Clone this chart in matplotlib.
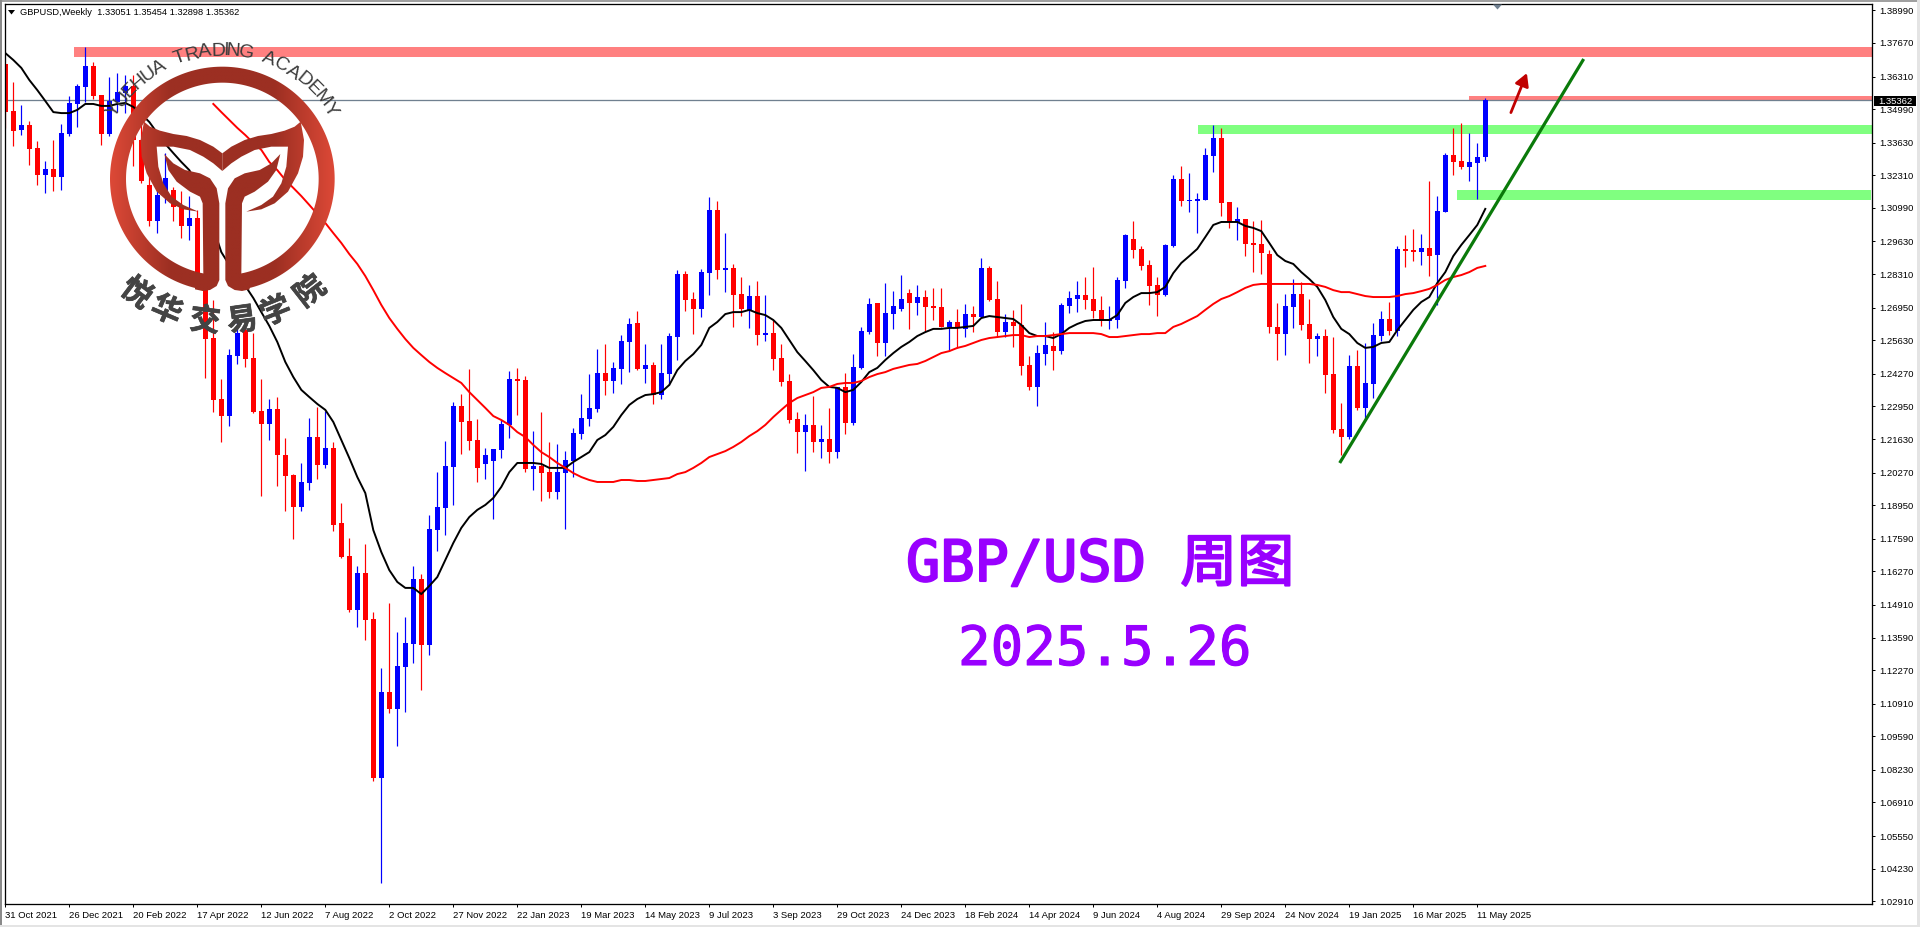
"""GBP/USD weekly candles with moving averages, zones, trend line and academy logo."""
import numpy as np
import matplotlib
matplotlib.use("Agg")
import matplotlib.pyplot as plt
import matplotlib.patheffects as pe
from matplotlib.patches import Rectangle, Polygon
from matplotlib.path import Path
from matplotlib.textpath import TextPath
from matplotlib.font_manager import FontProperties

# ── weekly candles ────────────────────────────────────────────────────────────
opens = [
    1.3682, 1.3491, 1.3414, 1.3435, 1.3342, 1.3232, 1.3257, 1.3224, 1.3398, 1.3520,
    1.3589, 1.3674, 1.3556, 1.3398, 1.3528, 1.3564, 1.3593, 1.3374, 1.3192, 1.3046,
    1.3151, 1.3171, 1.3103, 1.3026, 1.3058, 1.2831, 1.2572, 1.2325, 1.2256, 1.2499,
    1.2604, 1.2491, 1.2276, 1.2224, 1.2285, 1.2098, 1.2017, 1.1888, 1.1985, 1.2171,
    1.2058, 1.2127, 1.1823, 1.1689, 1.1470, 1.1620, 1.1434, 1.0790, 1.1138, 1.1070,
    1.1240, 1.1333, 1.1596, 1.1329, 1.1794, 1.1884, 1.2050, 1.2297, 1.2236, 1.2159,
    1.2062, 1.2074, 1.2118, 1.2220, 1.2406, 1.2402, 1.2042, 1.2054, 1.2029, 1.1948,
    1.2025, 1.2074, 1.2183, 1.2244, 1.2285, 1.2430, 1.2398, 1.2447, 1.2556, 1.2633,
    1.2447, 1.2463, 1.2341, 1.2426, 1.2576, 1.2831, 1.2730, 1.2690, 1.2835, 1.3090,
    1.2848, 1.2856, 1.2750, 1.2686, 1.2742, 1.2584, 1.2592, 1.2491, 1.2398, 1.2244,
    1.2191, 1.2220, 1.2151, 1.2163, 1.2110, 1.2374, 1.2228, 1.2451, 1.2596, 1.2714,
    1.2552, 1.2669, 1.2690, 1.2754, 1.2714, 1.2738, 1.2702, 1.2698, 1.2617, 1.2637,
    1.2609, 1.2669, 1.2657, 1.2856, 1.2730, 1.2596, 1.2637, 1.2625, 1.2463, 1.2374,
    1.2507, 1.2540, 1.2519, 1.2702, 1.2730, 1.2746, 1.2730, 1.2686, 1.2641, 1.2645,
    1.2803, 1.2973, 1.2933, 1.2868, 1.2787, 1.2746, 1.2945, 1.3216, 1.3127, 1.3127,
    1.3131, 1.3309, 1.3382, 1.3123, 1.3042, 1.3054, 1.2957, 1.2953, 1.2912, 1.2617,
    1.2588, 1.2698, 1.2750, 1.2629, 1.2568, 1.2580, 1.2426, 1.2204, 1.2171, 1.2459,
    1.2289, 1.2386, 1.2580, 1.2649, 1.2600, 1.2933, 1.2929, 1.2921, 1.2937, 1.2908,
    1.3082, 1.3313, 1.3289, 1.3265, 1.3281, 1.33051,
]
closes = [
    1.3487, 1.3410, 1.3435, 1.3338, 1.3232, 1.3257, 1.3224, 1.3402, 1.3524, 1.3593,
    1.3674, 1.3552, 1.3398, 1.3532, 1.3568, 1.3593, 1.3374, 1.3208, 1.3046, 1.3151,
    1.3220, 1.3103, 1.3026, 1.3058, 1.2831, 1.2568, 1.2321, 1.2256, 1.2503, 1.2592,
    1.2487, 1.2272, 1.2224, 1.2285, 1.2098, 1.2013, 1.1888, 1.1989, 1.2171, 1.2058,
    1.2127, 1.1815, 1.1685, 1.1470, 1.1620, 1.1430, 1.0790, 1.1138, 1.1070, 1.1244,
    1.1337, 1.1596, 1.1329, 1.1799, 1.1888, 1.2054, 1.2297, 1.2232, 1.2155, 1.2046,
    1.2098, 1.2123, 1.2224, 1.2406, 1.2398, 1.2042, 1.2054, 1.2025, 1.1948, 1.2029,
    1.2078, 1.2187, 1.2248, 1.2289, 1.2430, 1.2398, 1.2451, 1.2560, 1.2629, 1.2447,
    1.2463, 1.2341, 1.2430, 1.2580, 1.2831, 1.2726, 1.2690, 1.2839, 1.3090, 1.2848,
    1.2856, 1.2746, 1.2690, 1.2742, 1.2584, 1.2592, 1.2487, 1.2394, 1.2240, 1.2191,
    1.2220, 1.2151, 1.2163, 1.2110, 1.2374, 1.2228, 1.2455, 1.2600, 1.2710, 1.2552,
    1.2673, 1.2702, 1.2730, 1.2714, 1.2738, 1.2698, 1.2694, 1.2617, 1.2637, 1.2613,
    1.2669, 1.2657, 1.2856, 1.2726, 1.2596, 1.2637, 1.2621, 1.2459, 1.2374, 1.2511,
    1.2544, 1.2519, 1.2706, 1.2734, 1.2746, 1.2726, 1.2681, 1.2641, 1.2649, 1.2807,
    1.2989, 1.2929, 1.2864, 1.2783, 1.2746, 1.2949, 1.3216, 1.3127, 1.3131, 1.3135,
    1.3313, 1.3382, 1.3119, 1.3046, 1.3054, 1.2953, 1.2949, 1.2916, 1.2617, 1.2588,
    1.2702, 1.2750, 1.2625, 1.2568, 1.2580, 1.2422, 1.2200, 1.2171, 1.2459, 1.2289,
    1.2390, 1.2584, 1.2649, 1.2600, 1.2933, 1.2925, 1.2921, 1.2937, 1.2904, 1.3086,
    1.3313, 1.3285, 1.3265, 1.3285, 1.3305, 1.35362,
]
highs = [
    1.3682, 1.3609, 1.3516, 1.3451, 1.3370, 1.3289, 1.3374, 1.3439, 1.3552, 1.3601,
    1.3751, 1.3690, 1.3556, 1.3629, 1.3645, 1.3637, 1.3637, 1.3455, 1.3265, 1.3184,
    1.3321, 1.3184, 1.3167, 1.3147, 1.3090, 1.2839, 1.2726, 1.2406, 1.2528, 1.2645,
    1.2645, 1.2592, 1.2406, 1.2325, 1.2333, 1.2167, 1.2021, 1.2066, 1.2248, 1.2293,
    1.2276, 1.2151, 1.1904, 1.1762, 1.1649, 1.1738, 1.1462, 1.1236, 1.1499, 1.1381,
    1.1442, 1.1649, 1.1616, 1.1855, 1.2029, 1.2155, 1.2313, 1.2345, 1.2447, 1.2244,
    1.2127, 1.2123, 1.2240, 1.2438, 1.2451, 1.2418, 1.2195, 1.2272, 1.2151, 1.2143,
    1.2114, 1.2208, 1.2345, 1.2426, 1.2528, 1.2548, 1.2475, 1.2584, 1.2653, 1.2681,
    1.2548, 1.2475, 1.2548, 1.2592, 1.2848, 1.2843, 1.2758, 1.2852, 1.3143, 1.3127,
    1.2997, 1.2872, 1.2819, 1.2787, 1.2803, 1.2746, 1.2645, 1.2548, 1.2426, 1.2272,
    1.2264, 1.2337, 1.2220, 1.2289, 1.2374, 1.2430, 1.2507, 1.2617, 1.2734, 1.2714,
    1.2795, 1.2762, 1.2827, 1.2771, 1.2787, 1.2766, 1.2775, 1.2775, 1.2645, 1.2690,
    1.2710, 1.2702, 1.2896, 1.2864, 1.2803, 1.2669, 1.2686, 1.2710, 1.2499, 1.2544,
    1.2637, 1.2596, 1.2714, 1.2762, 1.2803, 1.2819, 1.2860, 1.2742, 1.2702, 1.2819,
    1.2993, 1.3046, 1.2945, 1.2888, 1.2819, 1.2953, 1.3232, 1.3269, 1.3240, 1.3159,
    1.3342, 1.3435, 1.3423, 1.3123, 1.3103, 1.3054, 1.3046, 1.3050, 1.2929, 1.2714,
    1.2750, 1.2811, 1.2799, 1.2730, 1.2592, 1.2609, 1.2576, 1.2309, 1.2503, 1.2523,
    1.2552, 1.2633, 1.2681, 1.2718, 1.2945, 1.2989, 1.3014, 1.2993, 1.3208, 1.3147,
    1.3321, 1.3423, 1.3443, 1.3402, 1.3362, 1.35454,
]
lows = [
    1.3423, 1.3350, 1.3394, 1.3273, 1.3192, 1.3159, 1.3167, 1.3171, 1.3390, 1.3427,
    1.3528, 1.3540, 1.3354, 1.3390, 1.3487, 1.3483, 1.3269, 1.3200, 1.3026, 1.2997,
    1.3119, 1.3046, 1.2977, 1.2969, 1.2827, 1.2410, 1.2272, 1.2151, 1.2216, 1.2467,
    1.2455, 1.2268, 1.1932, 1.2159, 1.1973, 1.1871, 1.1758, 1.1871, 1.1956, 1.2001,
    1.2046, 1.1790, 1.1681, 1.1462, 1.1402, 1.1349, 1.0778, 1.0365, 1.1053, 1.0920,
    1.1057, 1.1256, 1.1146, 1.1288, 1.1709, 1.1774, 1.1896, 1.2102, 1.2118, 1.1989,
    1.2001, 1.1839, 1.2086, 1.2167, 1.2260, 1.2029, 1.1956, 1.1912, 1.1924, 1.1920,
    1.1799, 1.2009, 1.2163, 1.2216, 1.2272, 1.2341, 1.2349, 1.2386, 1.2434, 1.2442,
    1.2390, 1.2305, 1.2325, 1.2382, 1.2483, 1.2681, 1.2588, 1.2657, 1.2746, 1.2811,
    1.2758, 1.2617, 1.2661, 1.2613, 1.2544, 1.2560, 1.2442, 1.2378, 1.2228, 1.2106,
    1.2033, 1.2110, 1.2086, 1.2066, 1.2086, 1.2183, 1.2220, 1.2447, 1.2588, 1.2499,
    1.2499, 1.2609, 1.2681, 1.2609, 1.2665, 1.2596, 1.2645, 1.2617, 1.2519, 1.2532,
    1.2576, 1.2596, 1.2653, 1.2722, 1.2576, 1.2576, 1.2536, 1.2422, 1.2361, 1.2297,
    1.2463, 1.2442, 1.2507, 1.2673, 1.2677, 1.2690, 1.2653, 1.2621, 1.2609, 1.2613,
    1.2775, 1.2896, 1.2848, 1.2706, 1.2661, 1.2742, 1.2941, 1.3107, 1.3082, 1.2997,
    1.3131, 1.3244, 1.3066, 1.3018, 1.2969, 1.2904, 1.2839, 1.2831, 1.2592, 1.2483,
    1.2503, 1.2613, 1.2604, 1.2471, 1.2499, 1.2349, 1.2187, 1.2098, 1.2163, 1.2281,
    1.2244, 1.2329, 1.2560, 1.2584, 1.2580, 1.2860, 1.2884, 1.2868, 1.2823, 1.2706,
    1.3082, 1.3232, 1.3257, 1.3208, 1.3135, 1.32898,
]

# ── moving averages (the slow one starts later, both end on the last bar) ─────
ma_fast = [
    1.3726, 1.3698, 1.3666, 1.3617, 1.3576, 1.3532, 1.3487, 1.3483, 1.3483, 1.3496,
    1.3520, 1.3520, 1.3512, 1.3512, 1.3520, 1.3524, 1.3508, 1.3479, 1.3447, 1.3402,
    1.3358, 1.3321, 1.3285, 1.3252, 1.3192, 1.3111, 1.3018, 1.2920, 1.2868, 1.2827,
    1.2783, 1.2734, 1.2677, 1.2621, 1.2556, 1.2475, 1.2414, 1.2362, 1.2333, 1.2305,
    1.2281, 1.2232, 1.2159, 1.2086, 1.2009, 1.1944, 1.1794, 1.1705, 1.1632, 1.1584,
    1.1560, 1.1560, 1.1535, 1.1568, 1.1604, 1.1673, 1.1742, 1.1803, 1.1847, 1.1876,
    1.1896, 1.1924, 1.1969, 1.2029, 1.2066, 1.2066, 1.2066, 1.2062, 1.2046, 1.2046,
    1.2046, 1.2070, 1.2090, 1.2110, 1.2159, 1.2179, 1.2212, 1.2260, 1.2301, 1.2325,
    1.2341, 1.2345, 1.2353, 1.2382, 1.2442, 1.2479, 1.2507, 1.2544, 1.2613, 1.2637,
    1.2669, 1.2677, 1.2677, 1.2686, 1.2673, 1.2665, 1.2645, 1.2613, 1.2564, 1.2515,
    1.2479, 1.2442, 1.2402, 1.2374, 1.2370, 1.2353, 1.2362, 1.2394, 1.2434, 1.2451,
    1.2483, 1.2511, 1.2536, 1.2556, 1.2580, 1.2596, 1.2609, 1.2609, 1.2613, 1.2613,
    1.2617, 1.2621, 1.2653, 1.2661, 1.2657, 1.2653, 1.2649, 1.2625, 1.2592, 1.2580,
    1.2580, 1.2572, 1.2588, 1.2613, 1.2629, 1.2641, 1.2645, 1.2645, 1.2645, 1.2665,
    1.2714, 1.2738, 1.2754, 1.2754, 1.2758, 1.2779, 1.2835, 1.2876, 1.2904, 1.2933,
    1.2981, 1.3030, 1.3042, 1.3042, 1.3042, 1.3026, 1.3018, 1.3005, 1.2957, 1.2908,
    1.2884, 1.2872, 1.2839, 1.2811, 1.2779, 1.2726, 1.2657, 1.2609, 1.2588, 1.2552,
    1.2532, 1.2536, 1.2552, 1.2556, 1.2604, 1.2645, 1.2686, 1.2718, 1.2738, 1.2795,
    1.2839, 1.2904, 1.2949, 1.2989, 1.3030, 1.3095,
]
ma_slow = [
    1.3520, 1.3487, 1.3455, 1.3423, 1.3394, 1.3362, 1.3334, 1.3285, 1.3252, 1.3212,
    1.3180, 1.3147, 1.3111, 1.3074, 1.3038, 1.2997, 1.2957, 1.2912, 1.2872, 1.2823,
    1.2766, 1.2706, 1.2653, 1.2609, 1.2568, 1.2532, 1.2503, 1.2475, 1.2451, 1.2430,
    1.2410, 1.2390, 1.2353, 1.2321, 1.2289, 1.2256, 1.2240, 1.2220, 1.2191, 1.2171,
    1.2139, 1.2110, 1.2090, 1.2066, 1.2046, 1.2025, 1.2009, 1.1997, 1.1989, 1.1989,
    1.1989, 1.1997, 1.1997, 1.1993, 1.1993, 1.1997, 1.2001, 1.2005, 1.2021, 1.2029,
    1.2046, 1.2066, 1.2090, 1.2102, 1.2114, 1.2131, 1.2151, 1.2175, 1.2195, 1.2220,
    1.2252, 1.2281, 1.2309, 1.2329, 1.2341, 1.2353, 1.2370, 1.2374, 1.2386, 1.2390,
    1.2390, 1.2398, 1.2414, 1.2426, 1.2434, 1.2447, 1.2455, 1.2463, 1.2467, 1.2479,
    1.2495, 1.2511, 1.2519, 1.2532, 1.2540, 1.2552, 1.2564, 1.2572, 1.2576, 1.2580,
    1.2584, 1.2584, 1.2576, 1.2580, 1.2580, 1.2584, 1.2588, 1.2592, 1.2592, 1.2592,
    1.2592, 1.2588, 1.2576, 1.2576, 1.2580, 1.2584, 1.2588, 1.2588, 1.2592, 1.2592,
    1.2617, 1.2629, 1.2645, 1.2661, 1.2686, 1.2710, 1.2730, 1.2742, 1.2758, 1.2775,
    1.2787, 1.2791, 1.2791, 1.2791, 1.2791, 1.2791, 1.2791, 1.2791, 1.2787, 1.2779,
    1.2766, 1.2758, 1.2758, 1.2750, 1.2742, 1.2738, 1.2738, 1.2738, 1.2742, 1.2750,
    1.2754, 1.2762, 1.2771, 1.2787, 1.2807, 1.2819, 1.2827, 1.2839, 1.2856, 1.2864,
]

# ── axis labels and drawn objects ─────────────────────────────────────────────
date_labels = [
    "31 Oct 2021", "26 Dec 2021", "20 Feb 2022", "17 Apr 2022", "12 Jun 2022", "7 Aug 2022",
    "2 Oct 2022", "27 Nov 2022", "22 Jan 2023", "19 Mar 2023", "14 May 2023", "9 Jul 2023",
    "3 Sep 2023", "29 Oct 2023", "24 Dec 2023", "18 Feb 2024", "14 Apr 2024", "9 Jun 2024",
    "4 Aug 2024", "29 Sep 2024", "24 Nov 2024", "19 Jan 2025", "16 Mar 2025", "11 May 2025",
]
price_ticks = [
    1.38990, 1.37670, 1.36310, 1.34990, 1.33630, 1.32310, 1.30990, 1.29630, 1.28310, 1.26950,
    1.25630, 1.24270, 1.22950, 1.21630, 1.20270, 1.18950, 1.17590, 1.16270, 1.14910, 1.13590,
    1.12270, 1.10910, 1.09590, 1.08230, 1.06910, 1.05550, 1.04230, 1.02910,
]
last_price = 1.35362
header_text = "GBPUSD,Weekly  1.33051 1.35454 1.32898 1.35362"

# zones: first bar, last bar, lower price, upper price
zone_starts = [8.6, 183.0, 149.1, 181.5]
zone_ends = [233.4, 233.4, 233.4, 233.2]
zone_lows = [1.3710, 1.3536, 1.3398, 1.3131]
zone_highs = [1.3751, 1.3552, 1.3435, 1.3171]
zone_colors = ["#FF8080", "#FF8080", "#80FF80", "#80FF80"]
trend_bars = [166.8, 197.3]
trend_prices = [1.2066, 1.3702]
arrow_bars = [188.2, 190.2]
arrow_prices = [1.3485, 1.3645]

BLUE, RED = "#0000FF", "#FF0000"
PX = 0.72  # one pixel in points at dpi=100
W, H = 1920, 927

fig = plt.figure(figsize=(W / 100, H / 100), dpi=100, facecolor="white")
ax = fig.add_axes([5 / W, 1 - 904 / H, (1872 - 5) / W, (904 - 4.3) / H])
ax.set_xlim(-0.04, 233.34)
ax.set_ylim(1.02798, 1.39236)

# ── zones, candles, averages ──────────────────────────────────────────────────
for x0, x1, lo_, hi_, col in zip(zone_starts, zone_ends, zone_lows, zone_highs, zone_colors):
    ax.add_patch(Rectangle((x0, lo_), x1 - x0, hi_ - lo_, color=col, lw=0, zorder=1))

ax.axhline(last_price, color="#708090", lw=PX * 1.3, zorder=1.5)

xs = np.arange(len(opens))
o, c, hi, lo = map(np.array, (opens, closes, highs, lows))
colors = [BLUE if b else RED for b in c >= o]
ax.vlines(xs, lo, hi, colors=colors, lw=PX * 1.2, zorder=2)
ax.bar(xs, np.abs(c - o), bottom=np.minimum(o, c), width=0.625, color=colors,
       lw=0, antialiased=False, zorder=2.1)

ax.plot(np.arange(len(ma_fast)), ma_fast, color="black", lw=1.4, zorder=3)
ax.plot(np.arange(len(opens) - len(ma_slow), len(opens)), ma_slow, color=RED, lw=1.4, zorder=3)
ax.plot(trend_bars, trend_prices, color="#0A7A0A", lw=2.3, zorder=4, solid_capstyle="butt")
ax.annotate("", xy=(arrow_bars[1], arrow_prices[1]), xytext=(arrow_bars[0], arrow_prices[0]),
            arrowprops=dict(arrowstyle="-|>,head_width=0.42,head_length=0.75", color="#C00000",
                            lw=2.0, shrinkA=0, shrinkB=0), zorder=4)

# ── axes ──────────────────────────────────────────────────────────────────────
TICK_FONT = dict(family="Liberation Sans", fontsize=6.8, color="black")
for s in ax.spines.values():
    s.set_linewidth(PX * 1.3)
ax.yaxis.tick_right()
ax.set_yticks(price_ticks)
ax.set_yticklabels([f"{p:.5f}" for p in price_ticks], **TICK_FONT)
ax.set_xticks(np.arange(len(date_labels)) * 8)
ax.set_xticklabels(date_labels, ha="left", **TICK_FONT)
ax.tick_params(axis="y", length=2.5, width=PX, pad=2.6)
ax.tick_params(axis="x", length=2.5, width=PX, pad=2.2)

# ── overlay in pixel coordinates: window frame, captions, logo ────────────────
ov = fig.add_axes([0, 0, 1, 1], facecolor="none", zorder=5)
ov.set_xlim(0, W)
ov.set_ylim(H, 0)
ov.axis("off")
ov.set_autoscale_on(False)

ov.add_patch(Rectangle((0, 0), W, 2, color="#A0A0A0", lw=0))
ov.add_patch(Rectangle((0, 0), 2, H, color="#8A8A8A", lw=0))
ov.add_patch(Rectangle((0, 925), W, 2, color="#E4E4E4", lw=0))
ov.add_patch(Rectangle((1917, 0), 3, H, color="#E4E4E4", lw=0))

ov.add_patch(Polygon([(8, 10), (15, 10), (11.5, 14.5)], color="black", lw=0))
ov.text(20, 12.8, header_text, va="center", ha="left", family="Liberation Sans",
        fontsize=6.7, color="black")
ov.add_patch(Polygon([(1493, 4.5), (1502, 4.5), (1497.5, 9.5)], color="#708090", lw=0))
ov.add_patch(Rectangle((1874, 96), 42, 10, color="black", lw=0))
ov.text(1878.7, 101.2, f"{last_price:.5f}", va="center", ha="left",
        family="Liberation Sans", fontsize=6.8, color="white")

PURPLE = "#9900FF"
TITLE_FAMILY = ["DejaVu Sans Mono", "Noto Sans CJK SC"]
ov.text(906, 581, "GBP/USD 周图", va="baseline", ha="left", family=TITLE_FAMILY, fontsize=41,
        color=PURPLE, path_effects=[pe.withStroke(linewidth=1.5, foreground=PURPLE)])
ov.text(958, 665, "2025.5.26", va="baseline", ha="left", family=TITLE_FAMILY, fontsize=39,
        color=PURPLE, path_effects=[pe.withStroke(linewidth=0.8, foreground=PURPLE)])

# logo shapes are traced in crop units (3 per pixel), right half mirrors the left
CX, CY = 667, 537
horn = [(667, 460), (640, 440), (600, 420), (560, 408), (520, 402), (480, 392), (450, 380),
        (432, 365), (422, 420), (425, 470), (440, 520), (470, 575), (510, 610), (550, 628),
        (595, 635), (550, 615), (515, 590), (490, 550), (475, 500), (470, 440), (520, 440),
        (570, 450), (610, 470), (640, 490), (667, 513)]
stem = [(493, 462), (520, 490), (555, 510), (600, 520), (630, 535), (650, 565), (658, 610),
        (658, 840), (650, 858), (630, 870), (608, 873), (585, 868), (585, 820), (610, 822),
        (608, 610), (600, 590), (570, 575), (530, 545), (505, 510)]
angles = np.radians(np.linspace(100, 440, 200))  # ring runs round the top, open at the bottom
ring = np.vstack([np.c_[CX + 337 * np.cos(angles), CY + 337 * np.sin(angles)],
                  np.c_[CX + 289 * np.cos(angles[::-1]), CY + 289 * np.sin(angles[::-1])]])
mirror = lambda pts: [(2 * CX - x, y) for x, y in pts]
shapes = [ring, horn, mirror(horn), stem, mirror(stem)]

# horizontal colour ramp, darker in the middle of the logo
xr = np.linspace(-1, 1, 230)
mix = np.clip((np.abs(xr) - 0.45) / 0.55, 0, 1)[None, :, None]
ramp = (1 - mix) * np.array([0x9C, 0x2F, 0x22]) / 255 + mix * np.array([0xE0, 0x4A, 0x38]) / 255
extent = [CX / 3 - 115, CX / 3 + 115, CY / 3 + 115, CY / 3 - 115]
for pts in shapes:
    pts = np.asarray(pts, dtype=float) / 3
    im = ov.imshow(ramp, extent=extent, aspect="auto", interpolation="bilinear", zorder=6)
    im.set_clip_path(Path(np.vstack([pts, pts[:1]]), closed=True), transform=ov.transData)
ov.set_xlim(0, W)
ov.set_ylim(H, 0)

# academy name bent over the ring
name = "YUEHUA TRADING ACADEMY"
fp = FontProperties(family="Liberation Sans")
size = 14
adv = [TextPath((0, 0), ch if ch != " " else "n", size=size * 100 / 72, prop=fp).get_extents().width * 1.07
       for ch in name]
radius = 123.5
pos = -sum(adv) / 2
for ch, w in zip(name, adv):
    a = (pos + w / 2) / radius
    ov.text(CX / 3 + radius * np.sin(a), CY / 3 - radius * np.cos(a), ch, family="Liberation Sans",
            fontsize=size, color="#3C3C3C", rotation=-np.degrees(a), rotation_mode="anchor",
            ha="center", va="baseline", zorder=7)
    pos += w

cn_chars = ["悦", "华", "交", "易", "学", "院"]
cn_angles = [-37, -23, -7, 8, 22, 38]
for ch, deg in zip(cn_chars, cn_angles):
    a = np.radians(deg)
    ov.text(CX / 3 + 143 * np.sin(a), CY / 3 + 143 * np.cos(a), ch, family="Noto Sans CJK SC",
            fontsize=22, fontweight="bold", color="#444444", rotation=deg, rotation_mode="anchor",
            ha="center", va="center", zorder=7,
            path_effects=[pe.withStroke(linewidth=0.5, foreground="#444444")])

fig.savefig("out.png", dpi=100)
